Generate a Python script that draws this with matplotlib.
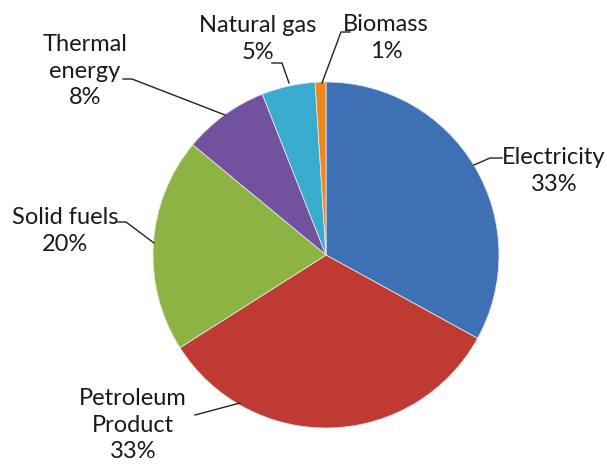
import matplotlib
matplotlib.use('Agg')
import matplotlib.pyplot as plt

# Energy consumption shares, clockwise from 12 o'clock
labels = ['Electricity', 'Petroleum\nProduct', 'Solid fuels', 'Thermal\nenergy',
          'Natural gas', 'Biomass']
shares = [33, 33, 20, 8, 5, 1]
colors = ['#3E70B6', '#BE3A33', '#8DB443', '#72519F', '#39ABCF', '#F0861E']

W, H = 607, 468


def Y(y):
    # image pixel row -> data y (origin bottom-left)
    return H - y


plt.rcParams['font.family'] = ['Lato', 'DejaVu Sans']

fig = plt.figure(figsize=(W / 100, H / 100), dpi=100)
ax = fig.add_axes([0, 0, 1, 1])

center = (326, Y(255))
radius = 173

ax.pie(shares, colors=colors, startangle=90, counterclock=False,
       center=center, radius=radius, frame=True,
       wedgeprops=dict(edgecolor='#e4e4e4', linewidth=0.6))
ax.set_xlim(0, W)
ax.set_ylim(0, H)
ax.set_aspect('equal')
ax.axis('off')

# label text centre and leader line points (pixels)
label_pos = [(554, 171), (133, 425), (65, 231), (85, 71), (258, 39), (386, 38)]
leaders = [
    [(474, 165), (490, 158), (502, 158)],
    [(195, 415), (240, 403)],
    [(118, 222), (126, 222), (154, 243)],
    [(123, 79), (132, 79), (225, 115)],
    [(272, 63), (282, 63), (289, 83)],
    [(350, 32), (341, 32), (322, 83)],
]

for lab, val, (tx, ty), pts in zip(labels, shares, label_pos, leaders):
    ax.text(tx, Y(ty), f'{lab}\n{val}%', ha='center', va='center',
            fontsize=17, color='#1a1a1a', linespacing=1.3)
    xs = [p[0] for p in pts]
    ys = [Y(p[1]) for p in pts]
    ax.plot(xs, ys, color='#222222', linewidth=1.0)

fig.savefig('out.png', dpi=100)
